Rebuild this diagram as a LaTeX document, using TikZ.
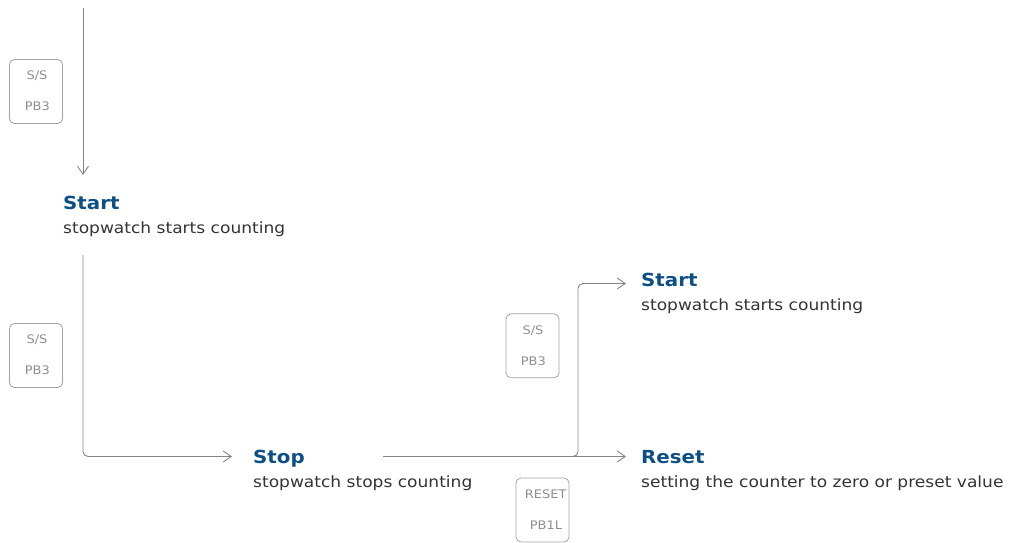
\documentclass[tikz,border=0pt]{standalone}
\usepackage{fontspec}
\setmainfont{DejaVu Sans}
\usepackage{graphicx}
\usetikzlibrary{arrows.meta,calc}
\definecolor{titleblue}{HTML}{0B4F86}
\definecolor{bodygray}{HTML}{333333}
\definecolor{linegray}{HTML}{858585}
\definecolor{btnborder}{HTML}{A3A3A3}
\definecolor{btntext}{HTML}{8E8E8E}
\newcommand{\hstr}[1]{\scalebox{1.1}[1]{#1}}
\begin{document}
\begin{tikzpicture}[x=1pt,y=-1pt,
  titletext/.style={inner sep=0pt, anchor=base west, text=titleblue, font=\fontsize{18}{20}\selectfont\bfseries},
  desctext/.style={inner sep=0pt, anchor=base west, text=bodygray, font=\fontsize{15.5}{18}\selectfont},
  btnbox/.style={draw=btnborder, line width=0.8pt, rounded corners=5pt, minimum width=53pt, minimum height=64pt, inner sep=0pt},
  btnlabel/.style={inner sep=0pt, anchor=base, text=btntext, font=\fontsize{11.8}{13}\selectfont},
  flow/.style={draw=linegray, line width=0.9pt, rounded corners=5pt, -{Straight Barb[length=8pt,width=11pt]}}
]
\useasboundingbox (0,0) rectangle (1009,543);

% states
\node[titletext] (s1t) at (63,209.5) {\hstr{Start}};
\node[desctext] (s1b) at (63,233.5) {\hstr{stopwatch starts counting}};
\node[titletext] (stopt) at (253,463) {\hstr{Stop}};
\node[desctext] (stopb) at (253,487) {\hstr{stopwatch stops counting}};
\node[titletext] (s2t) at (641,286.5) {\hstr{Start}};
\node[desctext] (s2b) at (641,310.5) {\hstr{stopwatch starts counting}};
\node[titletext] (rt) at (641,463) {\hstr{Reset}};
\node[desctext] (rb) at (641,487) {\hstr{setting the counter to zero or preset value}};

% buttons
\node[btnbox] (b1) at (36,91.5) {};
\node[btnlabel] (b1a) at ($(b1.north)+(1,20.7)$) {\hstr{S/S}};
\node[btnlabel] (b1b) at ($(b1.north)+(1.3,51.8)$) {\hstr{PB3}};
\node[btnbox] (b2) at (36,355.5) {};
\node[btnlabel] (b2a) at ($(b2.north)+(1,20.7)$) {\hstr{S/S}};
\node[btnlabel] (b2b) at ($(b2.north)+(1.3,51.8)$) {\hstr{PB3}};
\node[btnbox] (b3) at (532.5,345.8) {};
\node[btnlabel] (b3a) at ($(b3.north)+(0.5,20.7)$) {\hstr{S/S}};
\node[btnlabel] (b3b) at ($(b3.north)+(0.8,51.8)$) {\hstr{PB3}};
\node[btnbox] (b4) at (542.5,510) {};
\node[btnlabel] (b4a) at ($(b4.north)+(3.2,20.7)$) {\hstr{RESET}};
\node[btnlabel] (b4b) at ($(b4.north)+(3.5,51.8)$) {\hstr{PB1L}};

% connectors
\coordinate (entry) at (83,8);
\draw[flow] (entry) -- ($(s1t.base west)+(20,-34.5)$);
\draw[flow] ($(s1b.base west)+(20,21.5)$) |- ($(stopt.base west)+(-21,-6.5)$);
\draw[flow] ($(stopt.base west)+(130,-6.5)$) -| ($(s2t.base west)+(-63,-3)$) -- ($(s2t.base west)+(-15,-3)$);
\draw[flow] ($(stopt.base west)+(130,-6.5)$) -- ($(rt.base west)+(-15,-6.5)$);
\end{tikzpicture}
\end{document}
